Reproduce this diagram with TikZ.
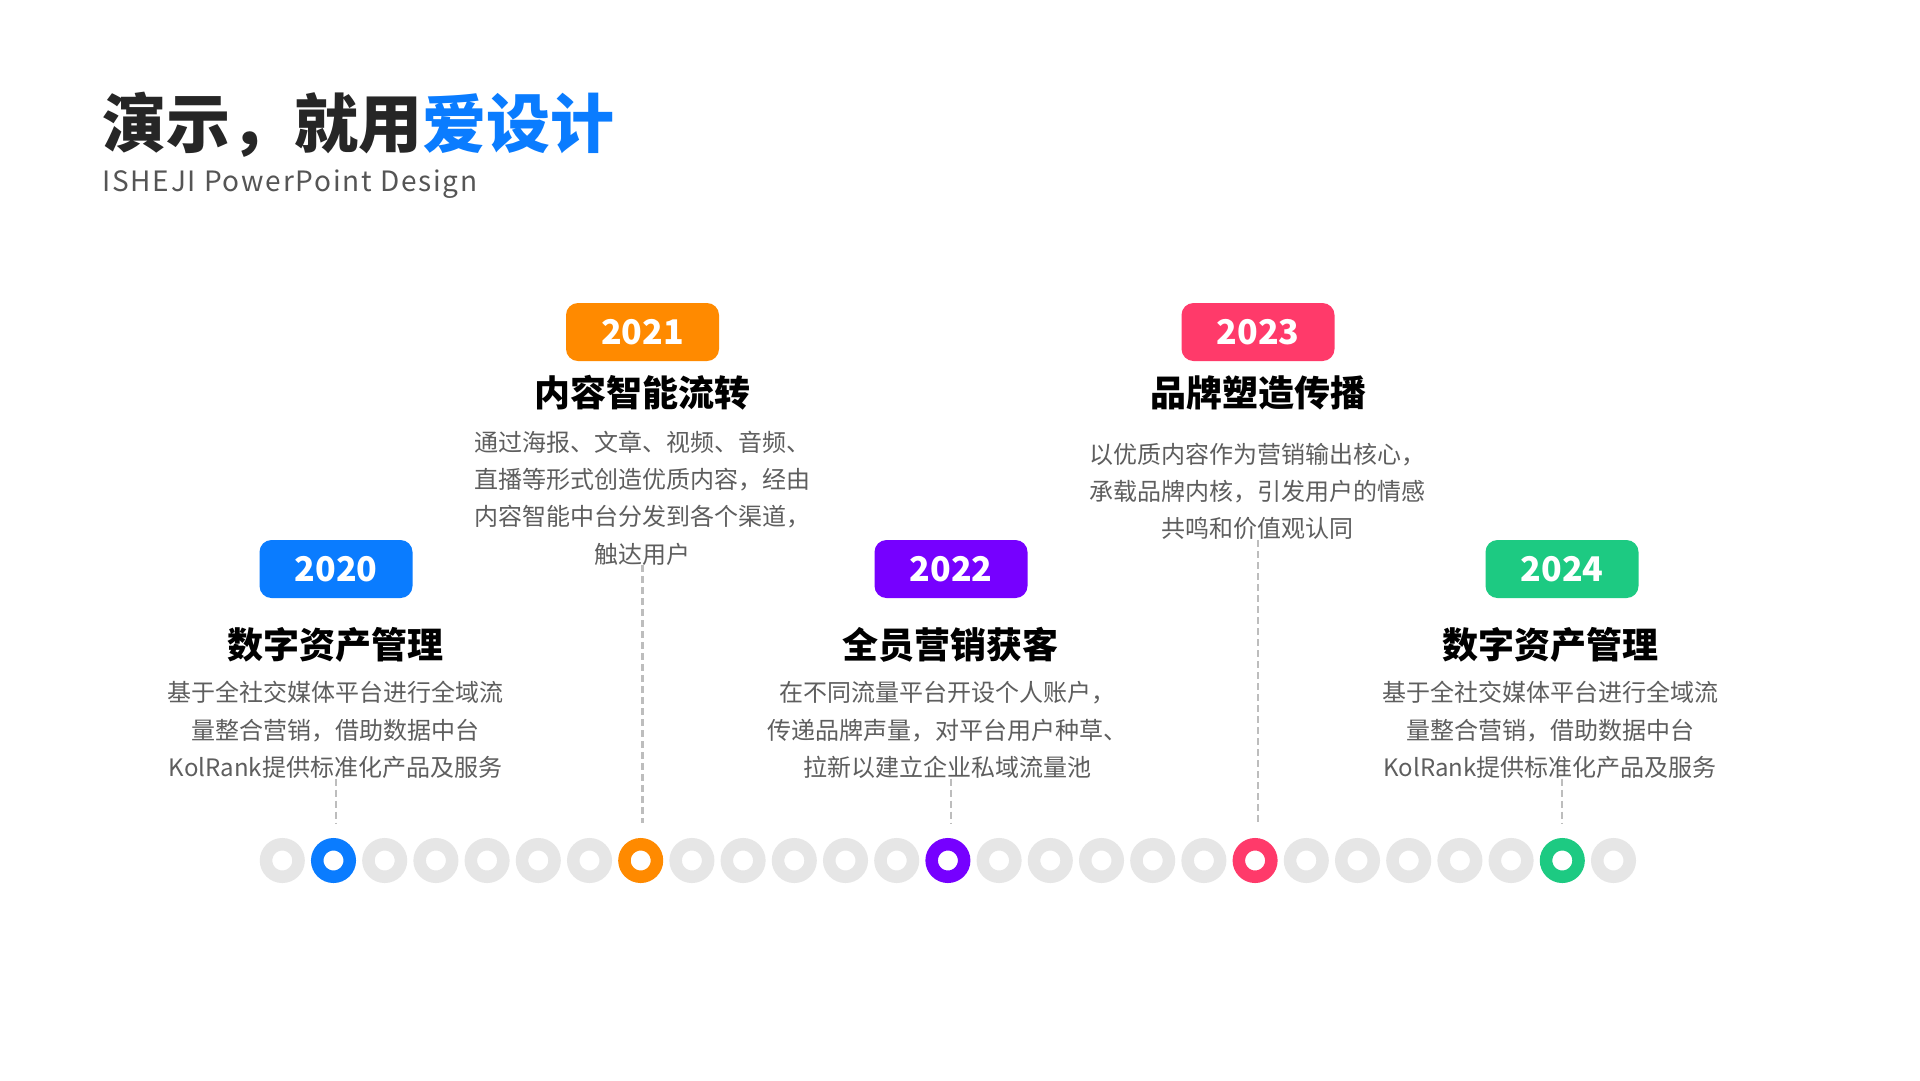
\documentclass[tikz,border=0pt]{standalone}
\usepackage{fontspec}
\setmainfont{Noto Sans CJK SC}
\newfontfamily\subfont[LetterSpace=6.4]{Noto Sans CJK SC}
\usepackage{xcolor}
\usepackage{tikz}
\usetikzlibrary{positioning}
\definecolor{isblue}{HTML}{0A7CFF}
\definecolor{isorange}{HTML}{FF8A00}
\definecolor{ispurple}{HTML}{7600FF}
\definecolor{isred}{HTML}{FF3A6A}
\definecolor{isgreen}{HTML}{1DCA82}
\definecolor{dotgray}{HTML}{E6E6E6}
\definecolor{dashgray}{HTML}{BDBDBD}
\definecolor{titledark}{HTML}{262626}
\definecolor{subgray}{HTML}{555555}
\definecolor{descgray}{HTML}{5E5E5E}

\begin{document}
\begin{tikzpicture}[x=1pt,y=-1pt,
  ring/.style={circle,draw=#1,line width=12.5pt,minimum size=32.5pt,inner sep=0pt},
  yearbadge/.style={fill=#1,rounded corners=12pt,minimum width=153pt,minimum height=58pt,
    inner sep=0pt,text=white,font=\fontsize{34}{40}\selectfont\bfseries},
  stagehead/.style={inner sep=0pt,text=black,font=\fontsize{36}{42}\selectfont\bfseries},
  stagedesc/.style={inner sep=0pt,align=center,text=descgray,font=\fontsize{24}{37.3}\selectfont},
  guide/.style={draw=dashgray,line width=2.5pt,dash pattern=on 7pt off 4pt,shorten >=15pt}]

\fill[white] (0,0) rectangle (1920,1080);
\useasboundingbox (0,0) rectangle (1920,1080);

\node[anchor=west,inner sep=0pt,text=titledark,font=\fontsize{64}{76}\selectfont\bfseries]
      (hero) at (102,125) {演示，就用\textcolor{isblue}{爱设计}};
\node[anchor=base west,inner sep=0pt,text=subgray,font=\subfont\fontsize{28}{33}\selectfont]
      (subhero) at (102,191) {ISHEJI PowerPoint Design};

% grey rings of the time line
\foreach \i in {0,...,26}{
  \pgfmathtruncatemacro\r{mod(\i+5,6)}
  \ifnum\r>0
    \node[ring=dotgray] (dot\i) at ({282.3+51.2*\i},860.5) {};
  \fi
}

% one stage per year
\foreach \yr/\col/\k/\bx/\by/\tx/\ty/\dx/\dy/\hd/\ds in {
  2020/isblue/1/336/569/335/645/335.5/730/数字资产管理/{基于全社交媒体平台进行全域流\\量整合营销，借助数据中台\\KolRank提供标准化产品及服务},
  2021/isorange/7/642.5/332/642/393/642/498/内容智能流转/{通过海报、文章、视频、音频、\\直播等形式创造优质内容，经由\\内容智能中台分发到各个渠道，\\触达用户},
  2022/ispurple/13/951/569/950/645/947/730/全员营销获客/{在不同流量平台开设个人账户，\\传递品牌声量，对平台用户种草、\\拉新以建立企业私域流量池},
  2023/isred/19/1258/332/1258/393/1257/491.5/品牌塑造传播/{以优质内容作为营销输出核心，\\承载品牌内核，引发用户的情感\\共鸣和价值观认同},
  2024/isgreen/25/1562/569/1550/645/1550/730/数字资产管理/{基于全社交媒体平台进行全域流\\量整合营销，借助数据中台\\KolRank提供标准化产品及服务}}{
  \node[ring=\col] (dot\yr) at ({282.3+51.2*\k},860.5) {};
  \node[yearbadge=\col] (badge\yr) at (\bx,\by) {\yr};
  \node[stagehead] (head\yr) at (\tx,\ty) {\hd};
  \node[stagedesc] (desc\yr) at (\dx,\dy) {\ds};
  \draw[guide] (desc\yr.south -| badge\yr) -- (dot\yr.north -| badge\yr);
}

\end{tikzpicture}
\end{document}
